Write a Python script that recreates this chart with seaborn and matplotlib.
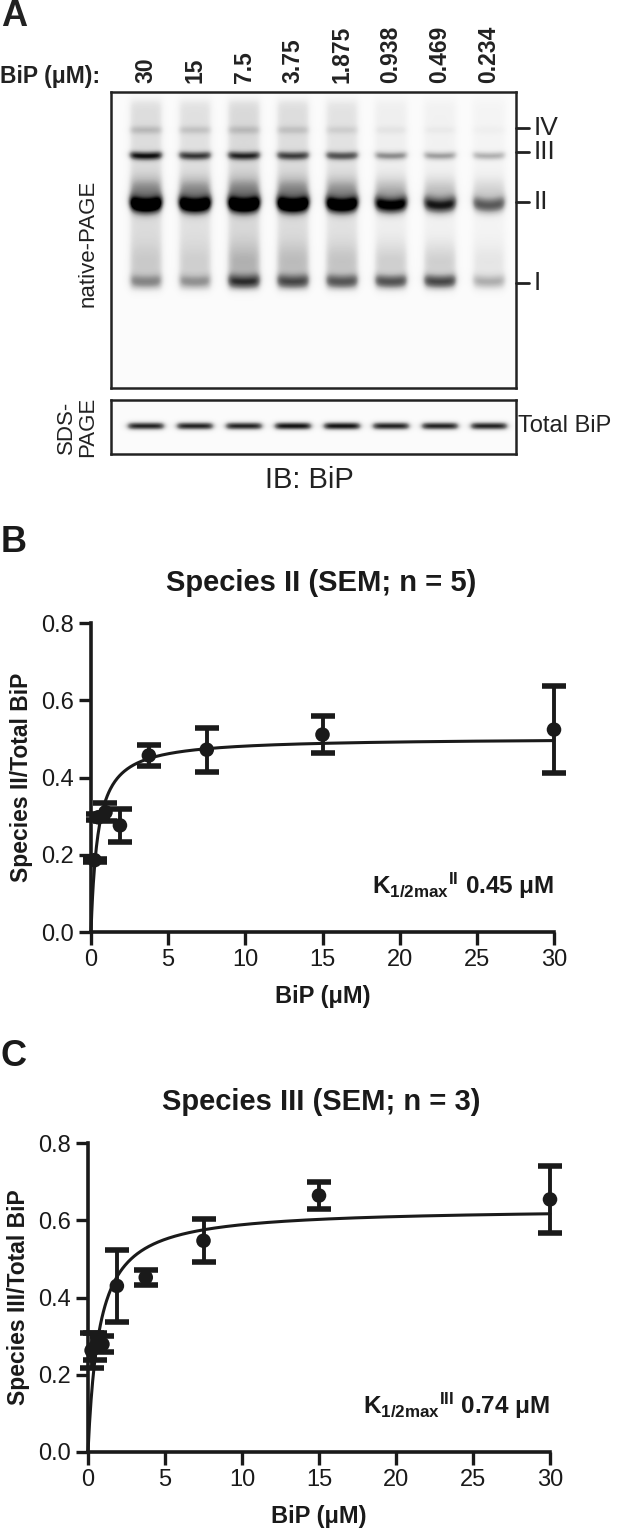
import numpy as np
import pandas as pd
import seaborn as sns
import matplotlib.pyplot as plt

# Data
lane_labels = ['30', '15', '7.5', '3.75', '1.875', '0.938', '0.469', '0.234']
bip_conc = [30, 15, 7.5, 3.75, 1.875, 0.938, 0.469, 0.234]

# band darkness per lane (0 = white, 1 = black), read from the blot
band_iv = [0.16, 0.14, 0.14, 0.13, 0.10, 0.06, 0.05, 0.04]
band_iii = [0.72, 0.62, 0.64, 0.58, 0.55, 0.40, 0.36, 0.32]
band_ii = [1.00, 1.00, 1.00, 1.00, 0.95, 0.85, 0.72, 0.55]
band_i = [0.30, 0.28, 0.55, 0.50, 0.48, 0.55, 0.60, 0.30]
smear = [0.20, 0.18, 0.22, 0.20, 0.17, 0.10, 0.08, 0.06]
total_bip = [0.85, 0.85, 0.85, 0.90, 0.90, 0.85, 0.85, 0.85]

species2 = [0.524, 0.511, 0.472, 0.457, 0.276, 0.310, 0.297, 0.186]
species2_sem = [0.112, 0.047, 0.057, 0.028, 0.042, 0.023, 0.008, 0.004]
species3 = [0.654, 0.664, 0.547, 0.452, 0.430, 0.279, 0.272, 0.263]
species3_sem = [0.087, 0.035, 0.056, 0.020, 0.093, 0.021, 0.035, 0.045]

k_half = {'II': 0.45, 'III': 0.74}
b_max = {'II': 0.503, 'III': 0.632}

W, H = 617, 1531
sns.set_theme(style='ticks')
plt.rcParams['font.family'] = ['Liberation Sans', 'DejaVu Sans']
plt.rcParams['mathtext.fontset'] = 'custom'
plt.rcParams['mathtext.rm'] = 'Liberation Sans:bold'
plt.rcParams['mathtext.it'] = 'Liberation Sans:bold'
plt.rcParams['mathtext.bf'] = 'Liberation Sans:bold'

fig = plt.figure(figsize=(W / 100, H / 100), dpi=100)


def box(l, t, r, b):
    return [l / W, 1 - b / H, (r - l) / W, (b - t) / H]


def ftext(x, y, s, **kw):
    fig.text(x / W, 1 - y / H, s, **kw)


# ---- A: blot ----
gw, gh = 405, 296
lane_x = 35 + 49 * np.arange(len(lane_labels))
xx, yy = np.meshgrid(np.arange(gw) + 0.5, np.arange(gh) + 0.5)
gel = np.full((gh, gw), 0.03)
for i, cx in enumerate(lane_x):
    dx = np.abs(xx - cx)
    mask = 1 / (1 + np.exp((dx - 16) / 1.8))
    smile = 0.012 * dx ** 2
    prof = smear[i] * (1 / (1 + np.exp((8 - yy) / 3))) * (1 / (1 + np.exp((yy - 198) / 2)))
    prof = prof + band_iv[i] * np.exp(-0.5 * ((yy - 38) / 3.0) ** 2)
    prof = prof + band_iii[i] * np.exp(-0.5 * ((yy - 64 + smile * 0.3) / 3.0) ** 2)
    prof = prof + band_ii[i] * np.exp(-0.5 * ((yy - 114 + smile) / 5.5) ** 2)
    prof = prof + 0.35 * band_ii[i] * np.exp(-0.5 * ((yy - 100) / 10) ** 2)
    prof = prof + band_i[i] * np.exp(-0.5 * ((yy - 190 + smile * 0.5) / 5) ** 2)
    prof = prof + 0.3 * band_i[i] * np.exp(-0.5 * ((yy - 170) / 14) ** 2)
    gel = gel + mask * prof
gel = np.clip(gel, 0, 1)

ax_gel = fig.add_axes(box(111, 92, 516, 388))
ax_gel.imshow(gel, cmap='Greys', vmin=0, vmax=1, extent=(0, gw, gh, 0),
              aspect='auto', interpolation='bilinear')
for lab, yl in zip(['IV', 'III', 'II', 'I'], [36, 60, 110, 191]):
    ax_gel.plot([gw, gw + 13], [yl, yl], color='#222222', lw=2, clip_on=False)
    ax_gel.text(gw + 18, yl, lab, ha='left', va='center', fontsize=19, color='#222222')
ax_gel.set_xlim(0, gw)
ax_gel.set_ylim(gh, 0)
ax_gel.set_xticks([])
ax_gel.set_yticks([])
for s in ax_gel.spines.values():
    s.set_linewidth(1.8)
    s.set_color('#222222')

sh = 54
xs, ys = np.meshgrid(np.arange(gw) + 0.5, np.arange(sh) + 0.5)
sds = np.full((sh, gw), 0.03)
for i, cx in enumerate(lane_x):
    mask = 1 / (1 + np.exp((np.abs(xs - cx) - 18) / 2.0))
    sds = sds + mask * total_bip[i] * np.exp(-0.5 * ((ys - 26) / 2.8) ** 2)
sds = np.clip(sds, 0, 1)
ax_sds = fig.add_axes(box(111, 400, 516, 454))
ax_sds.imshow(sds, cmap='Greys', vmin=0, vmax=1, extent=(0, gw, sh, 0),
              aspect='auto', interpolation='bilinear')
ax_sds.set_xticks([])
ax_sds.set_yticks([])
for s in ax_sds.spines.values():
    s.set_linewidth(1.8)
    s.set_color('#222222')
ax_sds.text(gw + 2, 26, 'Total BiP', ha='left', va='center', fontsize=17, color='#222222')

ftext(1, 17, 'A', fontsize=26, fontweight='bold', va='center', color='#222222')
ftext(0, 76, 'BiP (μM):', fontsize=16.5, fontweight='bold', va='center', color='#222222')
for cx, lab in zip(lane_x, lane_labels):
    ftext(111 + cx, 83, lab, rotation=90, ha='center', va='bottom',
          fontsize=16.5, fontweight='bold', color='#222222')
ftext(88, 243, 'native-PAGE', rotation=90, ha='center', va='center', fontsize=16, color='#222222')
ftext(77, 427, 'SDS-\nPAGE', rotation=90, ha='center', va='center', fontsize=16,
      linespacing=1.0, color='#222222')
ftext(309, 480, 'IB: BiP', ha='center', va='center', fontsize=21, color='#222222')


# ---- B and C: binding curves ----
def binding_panel(rect, y, sem, sp, title, letter, letter_y, title_y, ylab):
    ax = fig.add_axes(rect)
    df = pd.DataFrame({'BiP': bip_conc, 'frac': y, 'sem': sem})
    xfit = np.linspace(0, 30, 600)
    fit = pd.DataFrame({'BiP': xfit, 'frac': b_max[sp] * xfit / (k_half[sp] + xfit)})
    sns.lineplot(data=fit, x='BiP', y='frac', ax=ax, color='#1a1a1a', lw=2.2, clip_on=False)
    ax.errorbar(df['BiP'], df['frac'], yerr=df['sem'], fmt='none', ecolor='#1a1a1a',
                elinewidth=2.8, capsize=8.5, capthick=4, clip_on=False, zorder=3)
    sns.scatterplot(data=df, x='BiP', y='frac', ax=ax, color='#1a1a1a', s=110,
                    edgecolor='none', zorder=4, clip_on=False)
    ax.set_xlim(0, 30)
    ax.set_ylim(0, 0.8)
    ax.set_xticks([0, 5, 10, 15, 20, 25, 30])
    ax.set_yticks([0.0, 0.2, 0.4, 0.6, 0.8])
    ax.set_yticklabels(['0.0', '0.2', '0.4', '0.6', '0.8'])
    ax.tick_params(length=9, width=2.4, labelsize=17, color='#1a1a1a', labelcolor='#1a1a1a', pad=3)
    sns.despine(ax=ax)
    for s in ['left', 'bottom']:
        ax.spines[s].set_linewidth(2.6)
        ax.spines[s].set_color('#1a1a1a')
    ax.set_xlabel('BiP (μM)', fontsize=17, fontweight='bold', color='#1a1a1a', labelpad=10)
    ax.set_ylabel(ylab, fontsize=16.5, fontweight='bold', color='#1a1a1a', labelpad=6)
    ax.text(30.0, 0.12, r'$\mathrm{K}_{1/2max}{}^{%s}$ %.2f μM' % (sp, k_half[sp]),
            ha='right', va='center', fontsize=17.5, fontweight='bold', color='#1a1a1a')
    ftext(1, letter_y, letter, fontsize=26, fontweight='bold', va='center', color='#1a1a1a')
    ftext(321, title_y, title, fontsize=21, fontweight='bold', ha='center', va='center',
          color='#1a1a1a')
    return ax


binding_panel(box(91, 623, 554, 932), species2, species2_sem, 'II',
              'Species II (SEM; n = 5)', 'B', 543, 583, 'Species II/Total BiP')
binding_panel(box(88, 1143, 550, 1452), species3, species3_sem, 'III',
              'Species III (SEM; n = 3)', 'C', 1057, 1102, 'Species III/Total BiP')

fig.savefig('out.png', dpi=100)
